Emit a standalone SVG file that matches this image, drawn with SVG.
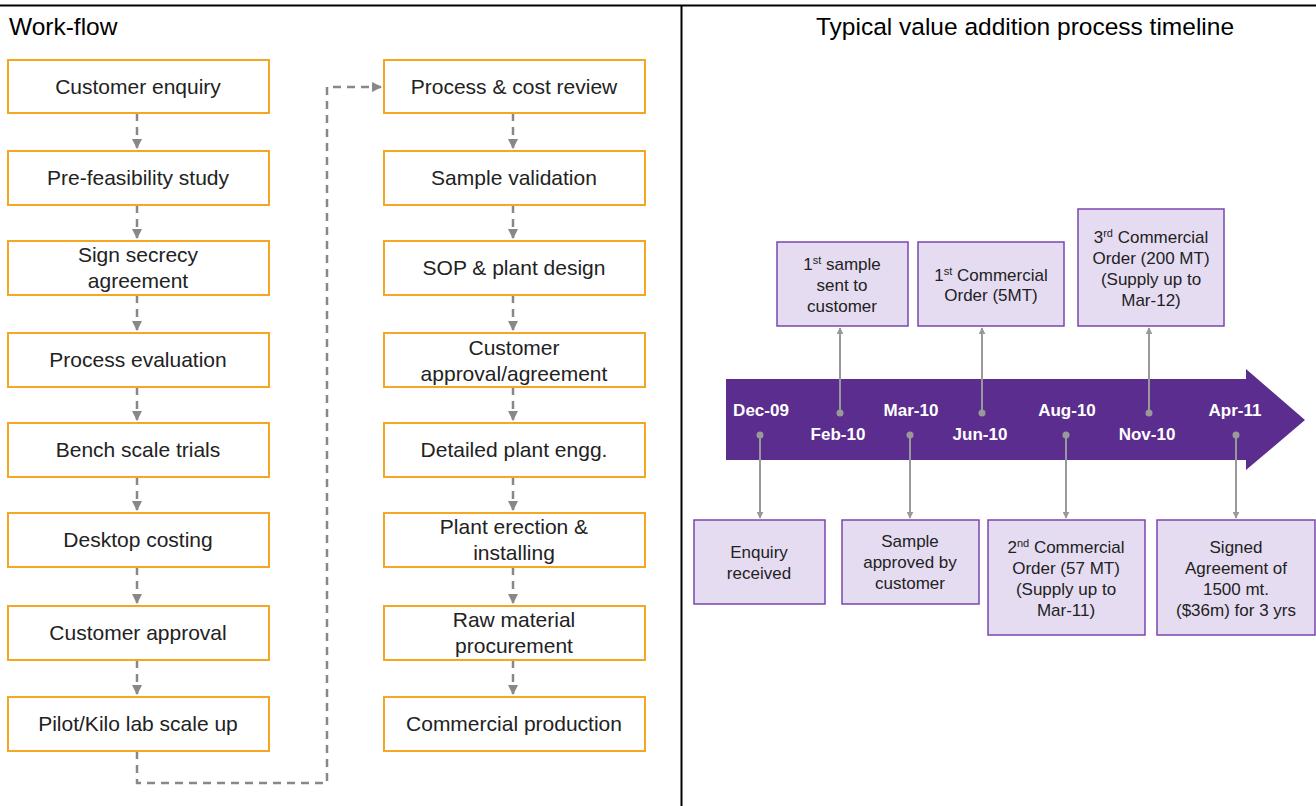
<svg xmlns="http://www.w3.org/2000/svg" width="1316" height="806" viewBox="0 0 1316 806">
<defs>
<style>
.box{fill:#fff;stroke:#F5A623;stroke-width:2}
.bt{font-family:"Liberation Sans",Arial,sans-serif;font-size:21px;fill:#222;text-anchor:middle}
.title{font-family:"Liberation Sans",Arial,sans-serif;font-size:24.5px;fill:#000}
.dash{fill:none;stroke:#888;stroke-width:2.5;stroke-dasharray:8 6}
.tl{fill:none;stroke:#999;stroke-width:2}
.dot{fill:#999}
.pb{fill:#E6DCF2;stroke:#7A45AE;stroke-width:1.5}
.pt{font-family:"Liberation Sans",Arial,sans-serif;font-size:17px;fill:#222;text-anchor:middle}
.dt{font-family:"Liberation Sans",Arial,sans-serif;font-size:17px;font-weight:bold;fill:#fff;text-anchor:middle}
.sup{font-size:11px}
</style>
<marker id="ah" viewBox="0 0 10 10" refX="9" refY="5" markerWidth="4" markerHeight="4" orient="auto" markerUnits="strokeWidth"><path d="M0,0 L10,5 L0,10 z" fill="#888"/></marker>
<marker id="ah2" viewBox="0 0 10 10" refX="9" refY="5" markerWidth="3.5" markerHeight="3.5" orient="auto" markerUnits="strokeWidth"><path d="M0,0 L10,5 L0,10 z" fill="#999"/></marker>
</defs>
<rect width="1316" height="806" fill="#fff"/>
<line x1="0" y1="5.5" x2="1316" y2="5.5" stroke="#000" stroke-width="2"/>
<line x1="681.5" y1="5" x2="681.5" y2="806" stroke="#000" stroke-width="2"/>
<text class="title" x="9" y="35">Work-flow</text>
<text class="title" x="1025" y="35" text-anchor="middle">Typical value addition process timeline</text>

<g id="connectors">
<path class="dash" d="M137,113 V148" marker-end="url(#ah)"/>
<path class="dash" d="M137,205 V238" marker-end="url(#ah)"/>
<path class="dash" d="M137,295 V330" marker-end="url(#ah)"/>
<path class="dash" d="M137,387 V420" marker-end="url(#ah)"/>
<path class="dash" d="M137,477 V510" marker-end="url(#ah)"/>
<path class="dash" d="M137,567 V603" marker-end="url(#ah)"/>
<path class="dash" d="M137,660 V694" marker-end="url(#ah)"/>
<path class="dash" d="M137,751 V783 H327 V87 H381" marker-end="url(#ah)"/>
<path class="dash" d="M513,113 V148" marker-end="url(#ah)"/>
<path class="dash" d="M513,205 V238" marker-end="url(#ah)"/>
<path class="dash" d="M513,295 V330" marker-end="url(#ah)"/>
<path class="dash" d="M513,387 V420" marker-end="url(#ah)"/>
<path class="dash" d="M513,477 V510" marker-end="url(#ah)"/>
<path class="dash" d="M513,567 V603" marker-end="url(#ah)"/>
<path class="dash" d="M513,660 V694" marker-end="url(#ah)"/>
</g>

<g id="n1"><rect class="box" x="8" y="60" width="261" height="53"/><text class="bt" x="138" y="94">Customer enquiry</text></g>
<g id="n2"><rect class="box" x="8" y="151" width="261" height="54"/><text class="bt" x="138" y="185">Pre-feasibility study</text></g>
<g id="n3"><rect class="box" x="8" y="241" width="261" height="54"/><text class="bt" x="138" y="262">Sign secrecy</text><text class="bt" x="138" y="288">agreement</text></g>
<g id="n4"><rect class="box" x="8" y="333" width="261" height="54"/><text class="bt" x="138" y="367">Process evaluation</text></g>
<g id="n5"><rect class="box" x="8" y="423" width="261" height="54"/><text class="bt" x="138" y="457">Bench scale trials</text></g>
<g id="n6"><rect class="box" x="8" y="513" width="261" height="54"/><text class="bt" x="138" y="547">Desktop costing</text></g>
<g id="n7"><rect class="box" x="8" y="606" width="261" height="54"/><text class="bt" x="138" y="640">Customer approval</text></g>
<g id="n8"><rect class="box" x="8" y="697" width="261" height="54"/><text class="bt" x="138" y="731">Pilot/Kilo lab scale up</text></g>

<g id="n9"><rect class="box" x="384" y="60" width="261" height="53"/><text class="bt" x="514" y="94">Process &amp; cost review</text></g>
<g id="n10"><rect class="box" x="384" y="151" width="261" height="54"/><text class="bt" x="514" y="185">Sample validation</text></g>
<g id="n11"><rect class="box" x="384" y="241" width="261" height="54"/><text class="bt" x="514" y="275">SOP &amp; plant design</text></g>
<g id="n12"><rect class="box" x="384" y="333" width="261" height="54"/><text class="bt" x="514" y="355">Customer</text><text class="bt" x="514" y="381">approval/agreement</text></g>
<g id="n13"><rect class="box" x="384" y="423" width="261" height="54"/><text class="bt" x="514" y="457">Detailed plant engg.</text></g>
<g id="n14"><rect class="box" x="384" y="513" width="261" height="54"/><text class="bt" x="514" y="534">Plant erection &amp;</text><text class="bt" x="514" y="560">installing</text></g>
<g id="n15"><rect class="box" x="384" y="606" width="261" height="54"/><text class="bt" x="514" y="627">Raw material</text><text class="bt" x="514" y="653">procurement</text></g>
<g id="n16"><rect class="box" x="384" y="697" width="261" height="54"/><text class="bt" x="514" y="731">Commercial production</text></g>

<g id="timeline">
<path d="M726,379 H1246 V369 L1305,420 L1246,470 V460 H726 Z" fill="#5B2D8E"/>
<text class="dt" x="761" y="416">Dec-09</text>
<text class="dt" x="838" y="440">Feb-10</text>
<text class="dt" x="911" y="416">Mar-10</text>
<text class="dt" x="980" y="440">Jun-10</text>
<text class="dt" x="1067" y="416">Aug-10</text>
<text class="dt" x="1147" y="440">Nov-10</text>
<text class="dt" x="1235" y="416">Apr-11</text>
</g>

<g id="timeline-connectors">
<circle class="dot" cx="760" cy="435" r="3.5"/><path class="tl" d="M760,435 V518" marker-end="url(#ah2)"/>
<circle class="dot" cx="840" cy="413" r="3.5"/><path class="tl" d="M840,413 V328" marker-end="url(#ah2)"/>
<circle class="dot" cx="910" cy="435" r="3.5"/><path class="tl" d="M910,435 V518" marker-end="url(#ah2)"/>
<circle class="dot" cx="982" cy="413" r="3.5"/><path class="tl" d="M982,413 V328" marker-end="url(#ah2)"/>
<circle class="dot" cx="1066" cy="435" r="3.5"/><path class="tl" d="M1066,435 V518" marker-end="url(#ah2)"/>
<circle class="dot" cx="1149" cy="413" r="3.5"/><path class="tl" d="M1149,413 V328" marker-end="url(#ah2)"/>
<circle class="dot" cx="1236" cy="435" r="3.5"/><path class="tl" d="M1236,435 V518" marker-end="url(#ah2)"/>
</g>

<g id="e1"><rect class="pb" x="777" y="242" width="131" height="84"/>
<text class="pt" x="842" y="270">1<tspan class="sup" dy="-6">st</tspan><tspan dy="6"> sample</tspan></text>
<text class="pt" x="842" y="291">sent to</text><text class="pt" x="842" y="312">customer</text></g>
<g id="e2"><rect class="pb" x="918" y="242" width="146" height="84"/>
<text class="pt" x="991" y="281">1<tspan class="sup" dy="-6">st</tspan><tspan dy="6"> Commercial</tspan></text>
<text class="pt" x="991" y="301">Order (5MT)</text></g>
<g id="e3"><rect class="pb" x="1078" y="209" width="146" height="117"/>
<text class="pt" x="1151" y="243">3<tspan class="sup" dy="-6">rd</tspan><tspan dy="6"> Commercial</tspan></text>
<text class="pt" x="1151" y="264">Order (200 MT)</text>
<text class="pt" x="1151" y="285">(Supply up to</text>
<text class="pt" x="1151" y="306">Mar-12)</text></g>
<g id="e4"><rect class="pb" x="694" y="520" width="131" height="84"/>
<text class="pt" x="759" y="558">Enquiry</text><text class="pt" x="759" y="579">received</text></g>
<g id="e5"><rect class="pb" x="842" y="520" width="137" height="84"/>
<text class="pt" x="910" y="547">Sample</text><text class="pt" x="910" y="568">approved by</text><text class="pt" x="910" y="589">customer</text></g>
<g id="e6"><rect class="pb" x="988" y="520" width="157" height="115"/>
<text class="pt" x="1066" y="553">2<tspan class="sup" dy="-6">nd</tspan><tspan dy="6"> Commercial</tspan></text>
<text class="pt" x="1066" y="574">Order (57 MT)</text>
<text class="pt" x="1066" y="595">(Supply up to</text>
<text class="pt" x="1066" y="616">Mar-11)</text></g>
<g id="e7"><rect class="pb" x="1157" y="520" width="158" height="115"/>
<text class="pt" x="1236" y="553">Signed</text>
<text class="pt" x="1236" y="574">Agreement of</text>
<text class="pt" x="1236" y="595">1500 mt.</text>
<text class="pt" x="1236" y="616">($36m) for 3 yrs</text></g>
</svg>
